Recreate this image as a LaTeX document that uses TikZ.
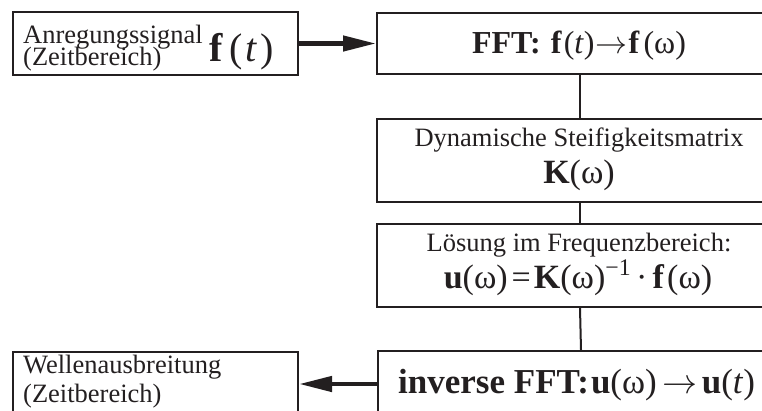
\RequirePackage{fix-cm}
\documentclass[tikz,border=0pt]{standalone}
\usepackage{fontspec}
\setmainfont{Liberation Serif}
\usetikzlibrary{arrows.meta}
\definecolor{ink}{HTML}{231F20}
\newcommand{\om}{\textnormal{ω}}
\newcommand{\toarrow}{\ensuremath{\rightarrow}}
\begin{document}
\begin{tikzpicture}[x=1pt,y=-1pt,
  box/.style={draw=ink, line width=2pt, inner sep=0pt, anchor=north west},
  flow/.style={draw=ink, line width=2pt},
  bigarrow/.style={draw=ink, fill=ink, line width=4.5pt, -{Triangle[length=33pt,width=15pt]}},
  txt/.style={text=ink, inner sep=0pt, font=\fontsize{26.5}{30}\selectfont},
  eq/.style={text=ink, inner sep=0pt, font=\fontsize{32}{35}\selectfont},
  big/.style={text=ink, inner sep=0pt, font=\fontsize{35}{38}\selectfont}]
\useasboundingbox (0,0) rectangle (762,410);
\clip (0,0) rectangle (762,410);

% frames of the flow chart
\node[box, minimum width=285pt, minimum height=63pt] (src)   at (12,11)  {};
\node[box, minimum width=406pt, minimum height=61pt] (fft)   at (376,12) {};
\node[box, minimum width=406pt, minimum height=83pt] (stiff) at (376,118) {};
\node[box, minimum width=406pt, minimum height=83pt] (solve) at (376,223) {};
\node[box, minimum width=406pt, minimum height=64pt] (ifft)  at (377,350) {};
\node[box, minimum width=285pt, minimum height=64pt] (wave)  at (12,351) {};

% vertical links and the two thick arrows
\draw[flow] (fft.south) -- (stiff.north);
\draw[flow] (stiff.south) -- (solve.north);
\draw[flow] (solve.south) -- (ifft.north);
\draw[bigarrow] (src.east) -- (fft.west |- src.east);
\draw[bigarrow] (ifft.west |- wave.east) -- (wave.east);

% texts
\node[txt, anchor=base west] (srcA) at (23,43) {Anregungssignal};
\node[txt, anchor=base west] (srcB) at (23,65) {(Zeitbereich)};
\node[text=ink, inner sep=0pt, font=\fontsize{40}{42}\selectfont, anchor=base west] (srcF) at (209,61)
  {\textbf{f}\hspace{7pt}(\hspace{2pt}\textit{t}\hspace{3pt})};

\node[eq, anchor=base] (fftT) at (579,53)
  {\textbf{FFT:}\hspace{10pt}\textbf{f}\hspace{2pt}(\textit{t})\hspace{1pt}\toarrow\hspace{1pt}\textbf{f}\hspace{4pt}(\om)};

\node[txt, anchor=base] (stiffA) at (579,146) {Dynamische Steifigkeitsmatrix};
\node[eq, anchor=base, font=\fontsize{34}{36}\selectfont] (stiffB) at (579,183) {\textbf{K}(\om)};

\node[txt, anchor=base] (solveA) at (579,251) {Lösung im Frequenzbereich:};
\node[eq, anchor=base, font=\fontsize{34}{37}\selectfont] (solveB) at (578,288)
  {\textbf{u}(\om)\hspace{4pt}=\hspace{3pt}\textbf{K}(\om)\textsuperscript{−1}\hspace{5pt}·\hspace{5pt}\textbf{f}\hspace{3pt}(\om)};

\node[big, anchor=base west] (ifftT) at (398,393)
  {\textbf{inverse FFT:}\hspace{2pt}\textbf{u}(\om)\hspace{6pt}\toarrow\hspace{4pt}\textbf{u}(\textit{t})};

\node[txt, anchor=base west] (waveA) at (23,373) {Wellenausbreitung};
\node[txt, anchor=base west] (waveB) at (23,402) {(Zeitbereich)};
\end{tikzpicture}
\end{document}
